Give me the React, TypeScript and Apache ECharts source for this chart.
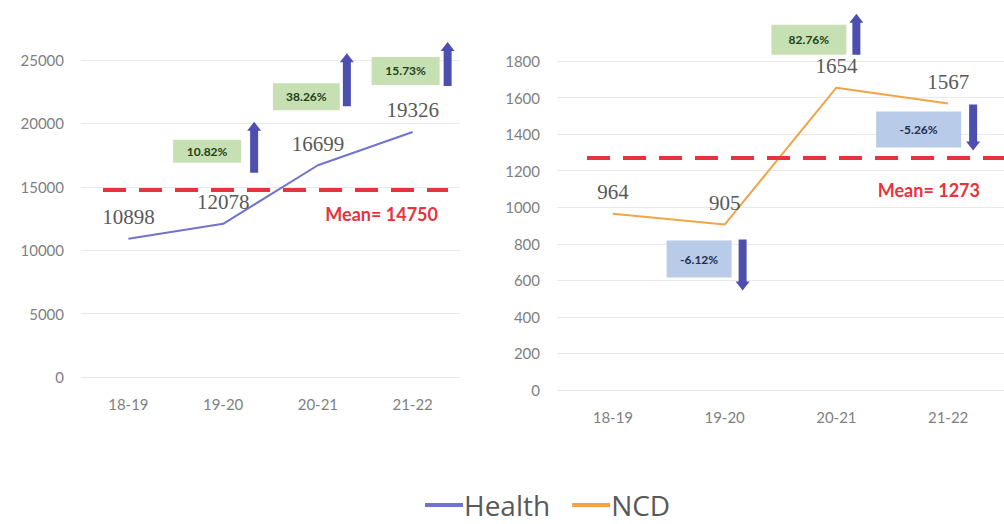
import React, { useEffect, useRef } from "react";
import * as echarts from "echarts";

// Financial years on both panels
const categories = ["18-19", "19-20", "20-21", "21-22"];

// Yearly totals
const healthValues = [10898, 12078, 16699, 19326];
const ncdValues = [964, 905, 1654, 1567];

// Year-on-year change (%), from the second year onward
const healthChanges = [10.82, 38.26, 15.73];
const ncdChanges = [-6.12, 82.76, -5.26];

// Placement of each change badge relative to its data point (pixels):
// box = [left, top, right, bottom], arrow = [dx, tailDy, tipDy]
const healthBadgeLayout = [
  { box: [-50, -84, 18, -61], arrow: [31, -51, -102] },
  { box: [-45, -82, 22, -55], arrow: [29, -59, -112] },
  { box: [-41, -75, 27, -47], arrow: [35, -46, -90] },
];
const ncdBadgeLayout = [
  { box: [-58, 16, 7, 53], arrow: [18, 15, 66] },
  { box: [-65, -63, 10, -33], arrow: [20, -33, -74] },
  { box: [-72, 8, 13, 44], arrow: [25, 1, 47] },
];

const HEALTH_COLOR = "#7272cf";
const NCD_COLOR = "#f0a548";
const MEAN_COLOR = "#e8323c";
const ARROW_COLOR = "#4d4fae";
const AXIS_TEXT = "#7f7f7f";
const VALUE_TEXT = "#595959";
const SANS = "Lato, 'Open Sans', sans-serif";
const SERIF = "'Liberation Serif', 'DejaVu Serif', serif";

const mean = (arr: number[]) => arr.reduce((s, v) => s + v, 0) / arr.length;

function badgeSeries(
  name: string,
  values: number[],
  changes: number[],
  layout: { box: number[]; arrow: number[] }[],
  axisIndex: number
) {
  const data = changes.map((c, i) => [i + 1, values[i + 1], c]);
  return {
    type: "custom",
    name,
    xAxisIndex: axisIndex,
    yAxisIndex: axisIndex,
    clip: false,
    z: 5,
    silent: true,
    data,
    renderItem: (params: any, api: any) => {
      const idx = params.dataIndex;
      const pt = api.coord([api.value(0), api.value(1)]);
      const change = api.value(2) as number;
      const up = change >= 0;
      const L = layout[idx];
      const [bx0, by0, bx1, by1] = L.box;
      const [adx, tailDy, tipDy] = L.arrow;
      const ax = pt[0] + adx;
      const yt = pt[1] + tailDy;
      const yp = pt[1] + tipDy;
      const s = yp > yt ? 1 : -1;
      const hw = 4;
      const hh = 7;
      const hl = 9;
      const yb = yp - s * hl;
      return {
        type: "group",
        children: [
          {
            type: "rect",
            shape: {
              x: pt[0] + bx0,
              y: pt[1] + by0,
              width: bx1 - bx0,
              height: by1 - by0,
            },
            style: { fill: up ? "#c6e0b4" : "#b8cbe8" },
          },
          {
            type: "text",
            style: {
              text: change.toFixed(2) + "%",
              x: pt[0] + (bx0 + bx1) / 2,
              y: pt[1] + (by0 + by1) / 2,
              textAlign: "center",
              textVerticalAlign: "middle",
              fill: up ? "#233f16" : "#1f2f4f",
              fontSize: 12,
              fontWeight: "bold",
              fontFamily: SANS,
            },
          },
          {
            type: "polygon",
            shape: {
              points: [
                [ax - hw, yt],
                [ax + hw, yt],
                [ax + hw, yb],
                [ax + hh, yb],
                [ax, yp],
                [ax - hh, yb],
                [ax - hw, yb],
              ],
            },
            style: { fill: ARROW_COLOR },
          },
        ],
      };
    },
  };
}

function lineSeries(
  name: string,
  values: number[],
  color: string,
  axisIndex: number,
  meanFrom: number,
  meanTo: number,
  meanLabelDistance: number[]
) {
  const m = mean(values);
  return {
    type: "line",
    name,
    xAxisIndex: axisIndex,
    yAxisIndex: axisIndex,
    data: values,
    symbol: "circle",
    symbolSize: 0,
    showSymbol: true,
    lineStyle: { color, width: 2 },
    itemStyle: { color },
    label: {
      show: true,
      position: "top",
      distance: 11,
      fontFamily: SERIF,
      fontSize: 21,
      color: VALUE_TEXT,
    },
    markLine: {
      silent: true,
      symbol: ["none", "none"],
      lineStyle: { color: MEAN_COLOR, width: 4, type: [23, 13] },
      label: {
        show: true,
        position: "insideEndBottom",
        distance: meanLabelDistance,
        formatter: "Mean= " + Math.round(m),
        color: MEAN_COLOR,
        fontFamily: SANS,
        fontSize: 18,
        fontWeight: "bold",
      },
      data: [
        [
          { yAxis: m, x: meanFrom },
          { yAxis: m, x: meanTo },
        ],
      ],
    },
  };
}

export default function App() {
  const ref = useRef<HTMLDivElement>(null);

  useEffect(() => {
    document.body.style.margin = "0";
    if (!ref.current) return;
    const chart = echarts.init(ref.current, null, { renderer: "svg" });

    const xAxisBase = {
      type: "category",
      data: categories,
      axisLine: { show: false },
      axisTick: { show: false },
      axisLabel: { color: AXIS_TEXT, fontSize: 15, fontFamily: SANS, margin: 19 },
    };
    const yAxisBase = {
      type: "value",
      min: 0,
      axisLine: { show: false },
      axisTick: { show: false },
      splitLine: { lineStyle: { color: "#e9e9e9", width: 1 } },
      axisLabel: {
        color: AXIS_TEXT,
        fontSize: 15,
        fontFamily: SANS,
        margin: 17,
        formatter: (v: number) => String(v),
      },
    };

    chart.setOption({
      animation: false,
      backgroundColor: "#ffffff",
      grid: [
        { left: 81, top: 60, width: 379, height: 317 },
        { left: 557, top: 61, width: 449, height: 329 },
      ],
      xAxis: [
        { ...xAxisBase, gridIndex: 0 },
        { ...xAxisBase, gridIndex: 1 },
      ],
      yAxis: [
        { ...yAxisBase, gridIndex: 0, max: 25000, interval: 5000 },
        { ...yAxisBase, gridIndex: 1, max: 1800, interval: 200 },
      ],
      legend: {
        data: ["Health", "NCD"],
        left: 420,
        top: 486,
        icon: "rect",
        itemWidth: 38,
        itemHeight: 4,
        itemGap: 22,
        textStyle: {
          color: VALUE_TEXT,
          fontSize: 28,
          fontFamily: "'Open Sans', sans-serif",
          padding: [0, 0, 0, -4],
        },
      },
      series: [
        lineSeries("Health", healthValues, HEALTH_COLOR, 0, 103, 448, [10, 15]),
        lineSeries("NCD", ncdValues, NCD_COLOR, 1, 587, 1004, [24, 24]),
        badgeSeries("Health change", healthValues, healthChanges, healthBadgeLayout, 0),
        badgeSeries("NCD change", ncdValues, ncdChanges, ncdBadgeLayout, 1),
      ],
    });

    return () => chart.dispose();
  }, []);

  return <div ref={ref} style={{ width: 1004, height: 524 }} />;
}
